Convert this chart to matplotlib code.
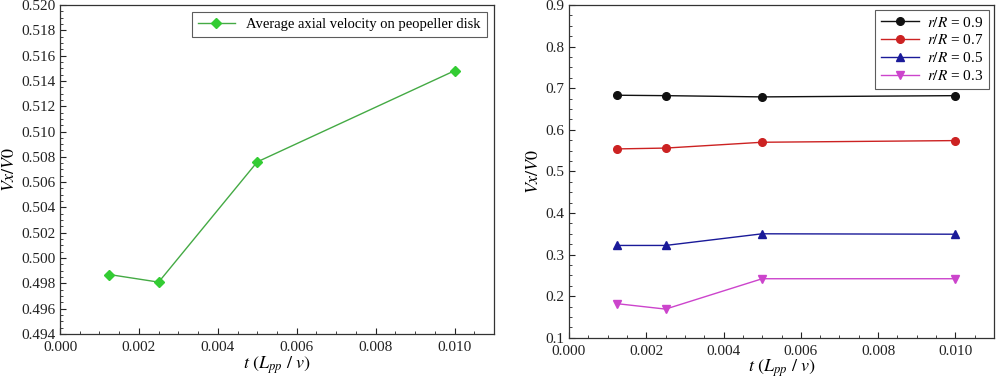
import matplotlib
matplotlib.use("Agg")
import matplotlib.pyplot as plt
from matplotlib.ticker import MultipleLocator, FormatStrFormatter

plt.rcParams['font.family'] = ['Liberation Serif', 'DejaVu Serif']
plt.rcParams['mathtext.fontset'] = 'stix'

t = [0.00125, 0.0025, 0.005, 0.010]
avg_vel = [0.4987, 0.4981, 0.5076, 0.5148]
avg_label = "Average axial velocity on peopeller disk"

series_labels = ["0.9", "0.7", "0.5", "0.3"]
v09 = [0.683, 0.682, 0.679, 0.682]
v07 = [0.554, 0.556, 0.570, 0.574]
v05 = [0.322, 0.322, 0.350, 0.349]
v03 = [0.182, 0.169, 0.242, 0.242]

fig = plt.figure(figsize=(10, 3.8), dpi=100)
ax1 = fig.add_axes([0.060, 0.121, 0.434, 0.866])
ax2 = fig.add_axes([0.569, 0.111, 0.425, 0.876])

def style(ax):
    ax.tick_params(direction='in', which='both', labelsize=11, colors='#222222')
    ax.tick_params(which='major', length=4)
    ax.tick_params(which='minor', length=2)
    ax.tick_params(axis='x', pad=5)
    ax.tick_params(top=False, right=False)
    for s in ax.spines.values():
        s.set_color('#333333')
        s.set_linewidth(0.9)
    ax.xaxis.set_major_locator(MultipleLocator(0.002))
    ax.xaxis.set_minor_locator(MultipleLocator(0.0005))
    ax.xaxis.set_major_formatter(FormatStrFormatter('%.3f'))
    ax.set_xlim(0, 0.011)
    ax.set_xlabel(r'$t\ (L_{pp}\ /\ v)$', fontsize=13, labelpad=0)
    ax.set_ylabel(r'$Vx/V0$', fontsize=13, labelpad=2)

ax1.plot(t, avg_vel, color='#44aa44', lw=1.0, marker='D', ms=5,
         mfc='#33cc33', mec='#33cc33', label=avg_label)
style(ax1)
ax1.set_ylim(0.494, 0.520)
ax1.yaxis.set_major_locator(MultipleLocator(0.002))
ax1.yaxis.set_minor_locator(MultipleLocator(0.0005))
ax1.yaxis.set_major_formatter(FormatStrFormatter('%.3f'))
leg1 = ax1.legend(loc='upper right', fontsize=10.5, frameon=True, fancybox=False,
                  edgecolor='#333333', handlelength=2.5, borderaxespad=0.5)
leg1.get_frame().set_linewidth(0.8)

colors = ['#111111', '#cc2222', '#1a1a99', '#cc44cc']
markers = ['o', 'o', '^', 'v']
for vals, lab, c, m in zip([v09, v07, v05, v03], series_labels, colors, markers):
    ax2.plot(t, vals, color=c, lw=1.0, marker=m, ms=5.5, mfc=c, mec=c,
             label=r'$r/R$ = ' + lab)
style(ax2)
ax2.set_ylim(0.1, 0.9)
ax2.yaxis.set_major_locator(MultipleLocator(0.1))
ax2.yaxis.set_minor_locator(MultipleLocator(0.025))
ax2.yaxis.set_major_formatter(FormatStrFormatter('%.1f'))
leg2 = ax2.legend(loc='upper right', fontsize=11, frameon=True, fancybox=False,
                  edgecolor='#333333', handlelength=2.5, borderaxespad=0.3,
                  labelspacing=0.25, handletextpad=0.5)
leg2.get_frame().set_linewidth(0.8)

fig.savefig('out.png', dpi=100)
